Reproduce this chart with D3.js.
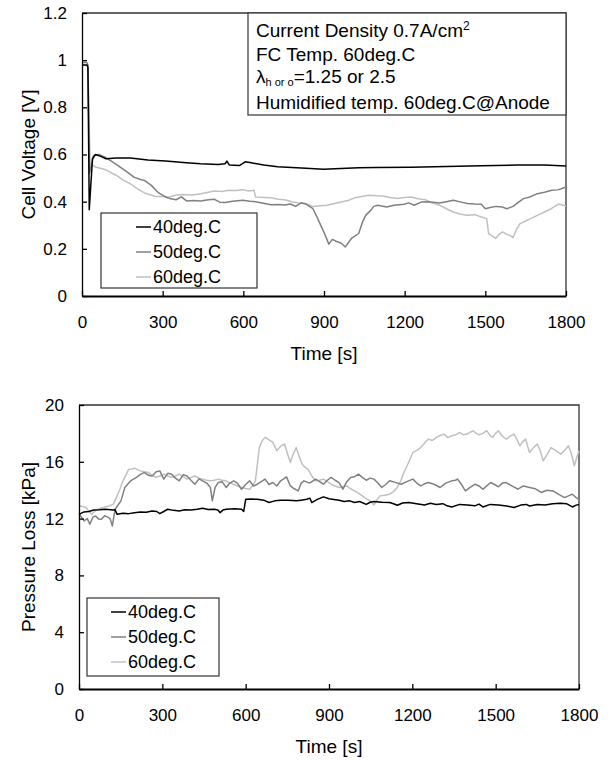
<!DOCTYPE html>
<html>
<head>
<meta charset="utf-8">
<script src="https://cdn.jsdelivr.net/npm/d3@7"></script>
<style>
  body { margin: 0; background: #fff; }
  svg text { font-family: "Liberation Sans", Arial, sans-serif; fill: #000; }
</style>
</head>
<body>
<div id="chart"></div>
<script>
// series names / colours
const seriesNames = ["40deg.C", "50deg.C", "60deg.C"];
const seriesColors = ["#000000", "#808080", "#c0c0c0"];

const timeTicks = [0, 300, 600, 900, 1200, 1500, 1800];
const voltTicks = [0, 0.2, 0.4, 0.6, 0.8, 1, 1.2];
const pressTicks = [0, 4, 8, 12, 16, 20];

// cell voltage [V] vs time [s]
const volt40 = [[0,0.98],[18,0.98],[22,0.97],[27,0.366],[39,0.582],[50,0.6],[70,0.592],[89,0.582],[128,0.585],[180,0.585],[245,0.577],[311,0.572],[376,0.566],[441,0.561],[506,0.558],[532,0.561],[539,0.572],[548,0.555],[585,0.553],[607,0.569],[624,0.566],[676,0.555],[728,0.548],[833,0.542],[898,0.537],[963,0.541],[1029,0.544],[1094,0.545],[1224,0.546],[1355,0.549],[1485,0.552],[1616,0.555],[1720,0.556],[1800,0.551]];
const volt50 = [[0,0.99],[18,0.99],[22,0.98],[28,0.52],[43,0.596],[63,0.6],[89,0.586],[115,0.568],[154,0.537],[175,0.52],[193,0.504],[215,0.495],[232,0.49],[258,0.469],[285,0.437],[311,0.42],[330,0.412],[350,0.408],[369,0.42],[389,0.403],[415,0.405],[441,0.403],[470,0.408],[493,0.41],[512,0.398],[532,0.396],[560,0.402],[598,0.406],[625,0.402],[650,0.399],[680,0.392],[702,0.387],[730,0.388],[754,0.386],[775,0.39],[794,0.38],[815,0.395],[833,0.39],[859,0.37],[872,0.34],[885,0.307],[900,0.27],[918,0.22],[931,0.24],[945,0.232],[963,0.225],[979,0.208],[1002,0.244],[1029,0.265],[1042,0.31],[1055,0.342],[1074,0.363],[1085,0.38],[1100,0.385],[1133,0.377],[1160,0.385],[1198,0.389],[1215,0.395],[1235,0.385],[1264,0.399],[1290,0.4],[1329,0.394],[1355,0.4],[1381,0.406],[1410,0.398],[1433,0.392],[1460,0.39],[1485,0.389],[1500,0.37],[1518,0.375],[1540,0.38],[1564,0.377],[1580,0.37],[1603,0.38],[1620,0.395],[1642,0.413],[1665,0.42],[1694,0.434],[1720,0.44],[1747,0.448],[1770,0.45],[1790,0.458],[1800,0.462]];
const volt60 = [[0,0.98],[18,0.98],[22,0.97],[30,0.56],[50,0.547],[89,0.535],[128,0.511],[155,0.49],[180,0.476],[205,0.455],[232,0.437],[271,0.423],[324,0.42],[350,0.428],[376,0.43],[410,0.428],[441,0.434],[470,0.44],[493,0.445],[520,0.443],[546,0.448],[575,0.447],[598,0.451],[620,0.445],[640,0.448],[645,0.42],[702,0.417],[730,0.41],[754,0.408],[780,0.4],[807,0.394],[835,0.39],[859,0.38],[885,0.383],[911,0.385],[940,0.392],[963,0.399],[990,0.405],[1016,0.417],[1040,0.422],[1068,0.427],[1095,0.425],[1120,0.424],[1145,0.418],[1172,0.413],[1200,0.418],[1224,0.42],[1250,0.412],[1277,0.408],[1300,0.395],[1329,0.385],[1355,0.37],[1381,0.356],[1405,0.348],[1433,0.342],[1460,0.345],[1485,0.335],[1505,0.328],[1512,0.265],[1525,0.255],[1538,0.244],[1550,0.26],[1564,0.272],[1578,0.262],[1590,0.258],[1603,0.248],[1615,0.28],[1629,0.307],[1650,0.318],[1668,0.328],[1690,0.34],[1720,0.356],[1745,0.37],[1772,0.39],[1790,0.385],[1800,0.38]];

// pressure loss [kPa] vs time [s]
const press40 = [[0,12.3],[18,12.47],[35,12.5],[53,12.6],[75,12.62],[95,12.66],[123,12.6],[130,12.62],[137,12.3],[158,12.38],[179,12.35],[200,12.42],[221,12.47],[242,12.44],[263,12.54],[280,12.5],[291,12.35],[305,12.5],[319,12.66],[340,12.58],[361,12.54],[380,12.62],[403,12.6],[425,12.66],[445,12.73],[465,12.64],[487,12.66],[500,12.6],[508,12.42],[518,12.6],[530,12.66],[560,12.7],[585,12.66],[593,12.5],[600,13.36],[620,13.38],[642,13.36],[665,13.3],[684,13.13],[705,13.25],[726,13.29],[750,13.3],[770,13.28],[782,13.25],[800,13.3],[820,13.36],[831,13.44],[838,13.13],[858,13.35],[880,13.53],[900,13.4],[918,13.35],[936,13.29],[955,13.2],[975,13.25],[992,13.13],[1010,13.2],[1034,13.0],[1048,13.15],[1062,13.2],[1090,13.15],[1118,13.13],[1132,13.05],[1146,12.94],[1165,13.1],[1188,13.13],[1215,13.05],[1244,12.96],[1265,13.08],[1286,13.0],[1310,13.05],[1325,12.9],[1342,12.82],[1370,13.0],[1398,12.96],[1425,12.9],[1440,13.02],[1454,12.82],[1480,13.0],[1510,12.96],[1540,12.88],[1566,12.78],[1590,12.95],[1610,13.0],[1622,12.89],[1650,13.0],[1678,12.96],[1705,13.05],[1734,13.08],[1755,13.05],[1776,12.82],[1790,12.95],[1800,13.0]];
const press50 = [[0,12.35],[18,11.84],[30,12.0],[39,11.6],[50,12.1],[60,12.19],[70,11.98],[81,11.95],[92,12.2],[102,12.12],[112,12.0],[120,11.48],[130,12.66],[151,13.25],[165,14.19],[186,14.66],[207,14.9],[220,15.1],[235,15.25],[250,15.05],[263,15.0],[278,15.3],[291,15.36],[305,14.78],[320,15.2],[333,15.13],[347,14.85],[361,14.66],[375,15.1],[389,15.0],[403,14.7],[417,14.42],[432,14.8],[445,14.66],[460,14.5],[473,14.19],[480,13.25],[490,14.2],[501,14.54],[515,14.6],[530,14.19],[543,14.5],[557,14.66],[570,14.5],[585,14.07],[600,14.4],[614,14.66],[628,14.3],[642,14.42],[656,14.6],[670,14.78],[684,14.4],[698,14.54],[712,14.3],[726,14.66],[737,14.8],[747,14.94],[761,14.3],[775,14.1],[789,13.95],[800,14.5],[810,14.66],[830,14.5],[852,14.78],[866,14.6],[880,14.42],[894,14.7],[908,14.9],[922,14.7],[936,14.54],[950,14.07],[964,14.6],[978,14.9],[992,14.95],[1006,15.13],[1020,14.9],[1034,14.7],[1048,14.85],[1062,14.78],[1076,14.5],[1090,14.19],[1104,14.4],[1118,14.66],[1139,14.55],[1160,14.42],[1180,14.6],[1202,14.78],[1216,14.5],[1230,14.3],[1244,14.45],[1258,14.54],[1280,14.4],[1300,14.19],[1320,14.5],[1342,14.66],[1355,14.7],[1363,14.78],[1377,14.4],[1391,13.95],[1408,14.2],[1426,14.42],[1440,14.3],[1454,14.07],[1468,14.3],[1482,14.54],[1496,14.4],[1510,14.24],[1524,14.5],[1538,14.54],[1558,14.3],[1580,14.07],[1600,14.3],[1622,14.19],[1643,14.1],[1664,13.84],[1685,14.0],[1706,13.95],[1727,13.7],[1748,13.48],[1762,13.6],[1776,13.72],[1788,13.5],[1800,13.36]];
const press60 = [[0,12.9],[12,12.85],[25,12.78],[35,12.5],[46,12.3],[56,12.5],[67,12.66],[80,12.75],[95,12.82],[110,12.9],[123,13.0],[137,13.6],[148,14.1],[158,14.66],[170,15.1],[179,15.48],[190,15.5],[200,15.55],[210,15.45],[221,15.36],[235,15.3],[249,15.25],[263,15.05],[277,14.9],[291,15.0],[305,15.13],[319,15.0],[333,14.9],[347,15.0],[361,15.13],[375,14.95],[389,14.78],[403,14.9],[417,15.0],[431,14.85],[445,14.78],[459,14.7],[473,14.66],[487,14.7],[501,14.78],[515,14.7],[530,14.66],[543,14.5],[557,14.42],[571,14.3],[585,14.19],[600,14.12],[614,14.07],[625,14.3],[635,14.66],[642,15.8],[649,17.0],[660,17.5],[670,17.72],[684,17.55],[698,17.37],[712,16.78],[726,17.1],[740,17.25],[750,16.6],[761,15.95],[770,16.5],[782,17.0],[792,16.4],[803,15.84],[814,15.6],[824,15.48],[838,15.0],[852,14.66],[866,14.7],[880,14.78],[894,14.6],[908,14.42],[922,14.3],[936,14.19],[950,14.25],[964,14.3],[978,14.1],[992,13.95],[1006,13.8],[1020,13.6],[1034,13.4],[1048,13.25],[1062,12.96],[1072,13.3],[1083,13.6],[1100,13.65],[1118,13.72],[1132,13.9],[1146,14.19],[1157,14.6],[1167,15.13],[1181,15.72],[1192,16.2],[1202,16.66],[1216,16.8],[1230,17.0],[1244,17.3],[1258,17.6],[1272,17.5],[1286,17.72],[1300,17.85],[1314,17.95],[1328,17.7],[1342,17.84],[1356,17.9],[1370,18.07],[1384,17.9],[1398,17.95],[1410,18.1],[1419,18.19],[1430,18.0],[1440,17.9],[1454,18.0],[1468,18.19],[1478,17.9],[1489,17.72],[1500,18.0],[1510,18.19],[1524,17.8],[1538,17.6],[1552,17.8],[1566,17.95],[1576,17.6],[1587,17.13],[1597,17.4],[1608,17.6],[1615,17.1],[1622,16.66],[1636,17.0],[1650,17.25],[1660,16.8],[1671,16.07],[1685,16.5],[1699,17.0],[1716,16.8],[1734,16.54],[1748,16.8],[1762,17.13],[1772,16.6],[1783,15.72],[1792,16.3],[1800,16.78]];

const voltSeries = [volt40, volt50, volt60];
const pressSeries = [press40, press50, press60];

const W = 610, H = 760;
const svg = d3.select("#chart").append("svg")
    .attr("width", W)
    .attr("height", H);

function drawPanel(opts) {
    const x = d3.scaleLinear().domain([0, 1800]).range([opts.left, opts.right]);
    const y = d3.scaleLinear().domain(opts.yDomain).range([opts.bottom, opts.top]);

    const g = svg.append("g");

    // frame (top / right)
    g.append("path")
        .attr("d", `M${opts.left},${opts.top}H${opts.right}V${opts.bottom}`)
        .attr("fill", "none")
        .attr("stroke", "#333")
        .attr("stroke-width", 1.3);

    const line = d3.line()
        .x(d => x(d[0]))
        .y(d => y(d[1]));

    // lightest first so black sits on top
    const order = [2, 1, 0];
    order.forEach(i => {
        g.append("path")
            .datum(opts.series[i])
            .attr("fill", "none")
            .attr("stroke", seriesColors[i])
            .attr("stroke-width", 1.5)
            .attr("stroke-linejoin", "round")
            .attr("d", line);
    });

    const xAxis = g.append("g")
        .attr("transform", `translate(0,${opts.bottom})`)
        .call(d3.axisBottom(x).tickValues(timeTicks).tickSize(-5).tickPadding(20).tickSizeOuter(0)
            .tickFormat(d3.format("d")));
    const yAxis = g.append("g")
        .attr("transform", `translate(${opts.left},0)`)
        .call(d3.axisLeft(y).tickValues(opts.yTicks).tickSize(-5).tickPadding(15).tickSizeOuter(0)
            .tickFormat(d3.format("")));

    [xAxis, yAxis].forEach(a => {
        a.selectAll("path, line").attr("stroke", "#000").attr("stroke-width", 1.3);
        a.selectAll("text").style("font-size", "17px").attr("fill", "#000");
    });
    xAxis.select(".domain").attr("stroke-width", 2);

    // axis titles
    g.append("text")
        .attr("x", (opts.left + opts.right) / 2)
        .attr("y", opts.bottom + 64)
        .attr("text-anchor", "middle")
        .style("font-size", "19px")
        .text("Time [s]");
    g.append("text")
        .attr("transform", `translate(28,${(opts.top + opts.bottom) / 2}) rotate(-90)`)
        .attr("text-anchor", "middle")
        .attr("dy", "0.35em")
        .style("font-size", "19px")
        .text(opts.yTitle);

    // legend
    const lg = opts.legend;
    g.append("rect")
        .attr("x", lg.x).attr("y", lg.y)
        .attr("width", lg.w).attr("height", lg.h)
        .attr("fill", "#fff")
        .attr("stroke", "#333")
        .attr("stroke-width", 1.2);
    seriesNames.forEach((name, i) => {
        const cy = lg.y + 14 + i * 25;
        g.append("line")
            .attr("x1", lg.lineX).attr("x2", lg.lineX + 15)
            .attr("y1", cy).attr("y2", cy)
            .attr("stroke", seriesColors[i])
            .attr("stroke-width", 1.5);
        g.append("text")
            .attr("x", lg.lineX + 17)
            .attr("y", cy)
            .attr("dy", "0.35em")
            .style("font-size", "18px")
            .text(name);
    });
    return g;
}

const voltPanel = drawPanel({
    left: 82, right: 566, top: 13, bottom: 296,
    yDomain: [0, 1.2], yTicks: voltTicks,
    series: voltSeries,
    yTitle: "Cell Voltage [V]",
    legend: {x: 101, y: 213, w: 156, h: 75, lineX: 136}
});

// condition box
voltPanel.append("rect")
    .attr("x", 248).attr("y", 13)
    .attr("width", 566 - 248).attr("height", 102)
    .attr("fill", "#fff")
    .attr("stroke", "#333")
    .attr("stroke-width", 1.2);
const info = voltPanel.append("g").style("font-size", "19px");
const t1 = info.append("text").attr("x", 256).attr("y", 37);
t1.append("tspan").text("Current Density 0.7A/cm");
t1.append("tspan").attr("dy", -7).style("font-size", "12px").text("2");
info.append("text").attr("x", 256).attr("y", 61).text("FC Temp. 60deg.C");
const t3 = info.append("text").attr("x", 256).attr("y", 83);
t3.append("tspan").text("\u03bb");
t3.append("tspan").attr("dy", 3).style("font-size", "11px").text("h or o");
t3.append("tspan").attr("dy", -3).text("=1.25 or 2.5");
info.append("text").attr("x", 256).attr("y", 109).text("Humidified temp. 60deg.C@Anode");

drawPanel({
    left: 79, right: 579, top: 405, bottom: 689,
    yDomain: [0, 20], yTicks: pressTicks,
    series: pressSeries,
    yTitle: "Pressure Loss [kPa]",
    legend: {x: 87, y: 598, w: 132, h: 78, lineX: 111}
});
</script>
</body>
</html>
